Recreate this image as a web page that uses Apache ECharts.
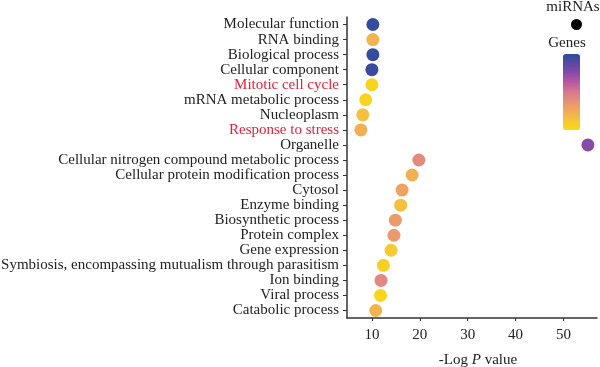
<!DOCTYPE html>
<html>
<head>
<meta charset="utf-8">
<script src="https://cdn.jsdelivr.net/npm/echarts@6/dist/echarts.min.js"></script>
<style>
html,body{margin:0;padding:0;background:#fff;}
#chart{width:600px;height:367px;}
</style>
</head>
<body>
<div id="chart"></div>
<script>
// Categories (top to bottom)
var categories = [
  "Molecular function", "RNA binding", "Biological process", "Cellular component",
  "Mitotic cell cycle", "mRNA metabolic process", "Nucleoplasm", "Response to stress",
  "Organelle", "Cellular nitrogen compound metabolic process",
  "Cellular protein modification process", "Cytosol", "Enzyme binding",
  "Biosynthetic process", "Protein complex", "Gene expression",
  "Symbiosis, encompassing mutualism through parasitism", "Ion binding",
  "Viral process", "Catabolic process"
];
// -Log P values
var logP = [10.2, 10.2, 10.2, 10.0, 10.0, 8.7, 8.1, 7.7, 55.1, 19.8,
            18.4, 16.3, 16.0, 14.9, 14.6, 14.0, 12.4, 11.9, 11.8, 10.8];
// Relative gene scale (0 = low/yellow, 1 = high/blue)
var geneScale = [0.98, 0.2, 0.98, 0.97, 0.04, 0.04, 0.15, 0.22, 0.75, 0.4,
                 0.22, 0.28, 0.15, 0.32, 0.33, 0.1, 0.06, 0.42, 0.03, 0.2];
var highlighted = ["Mitotic cell cycle", "Response to stress"];
var xTicks = [10, 20, 30, 40, 50];

var data = categories.map(function (c, i) { return [logP[i], c, geneScale[i]]; });

var FONT = "Liberation Serif";
var chart = echarts.init(document.getElementById('chart'));
chart.setOption({
  animation: false,
  backgroundColor: '#fff',
  grid: { left: 347, right: 3, top: 17, bottom: 49, containLabel: false, outerBoundsMode: 'none' },
  xAxis: {
    type: 'value', min: 4.8, max: 57,
    axisLine: { show: true, lineStyle: { color: '#333', width: 1.5 } },
    axisTick: { show: true, length: 3, customValues: xTicks, lineStyle: { color: '#333' } },
    axisLabel: { customValues: xTicks, fontFamily: FONT, fontSize: 15, color: '#222', margin: 10 },
    splitLine: { show: false },
    name: '-Log {i|P} value',
    nameLocation: 'middle', nameGap: 35,
    nameTextStyle: { fontFamily: FONT, fontSize: 15, color: '#222', padding: [0, 0, 0, 12],
      rich: { i: { fontFamily: FONT, fontStyle: 'italic', fontSize: 15, color: '#222' } } }
  },
  yAxis: {
    type: 'category', data: categories, inverse: true,
    axisLine: { show: true, lineStyle: { color: '#333', width: 1.5 } },
    axisTick: { show: true, alignWithLabel: true, length: 4, lineStyle: { color: '#333' } },
    axisLabel: {
      interval: 0, fontFamily: FONT, fontSize: 15, margin: 8,
      color: function (v) { return highlighted.indexOf(v) >= 0 ? '#e8203a' : '#222'; }
    },
    splitLine: { show: false }
  },
  visualMap: {
    type: 'continuous', min: 0, max: 1, dimension: 2, seriesIndex: 0,
    orient: 'vertical', left: 563, top: 54, itemWidth: 17, itemHeight: 76,
    padding: 0, calculable: false, hoverLink: false, realtime: false,
    text: ['', ''], showLabel: false,
    inRange: { color: ['#fadc12', '#f6c43a', '#f0aa58', '#e8907a', '#d8788e', '#b85aa2', '#8a4aaa', '#5a48a4', '#2e4c9c'] }
  },
  graphic: [
    { type: 'text', x: 573, y: 0, style: { text: 'miRNAs', font: '15px "Liberation Serif"', fill: '#222', align: 'center', verticalAlign: 'top' } },
    { type: 'circle', shape: { cx: 576.5, cy: 24.5, r: 5.5 }, style: { fill: '#000' } },
    { type: 'text', x: 567, y: 36, style: { text: 'Genes', font: '15px "Liberation Serif"', fill: '#222', align: 'center', verticalAlign: 'top' } }
  ],
  series: [{
    type: 'scatter', data: data, symbolSize: 13,
    itemStyle: { opacity: 1 },
    encode: { x: 0, y: 1 }
  }]
});
</script>
</body>
</html>
